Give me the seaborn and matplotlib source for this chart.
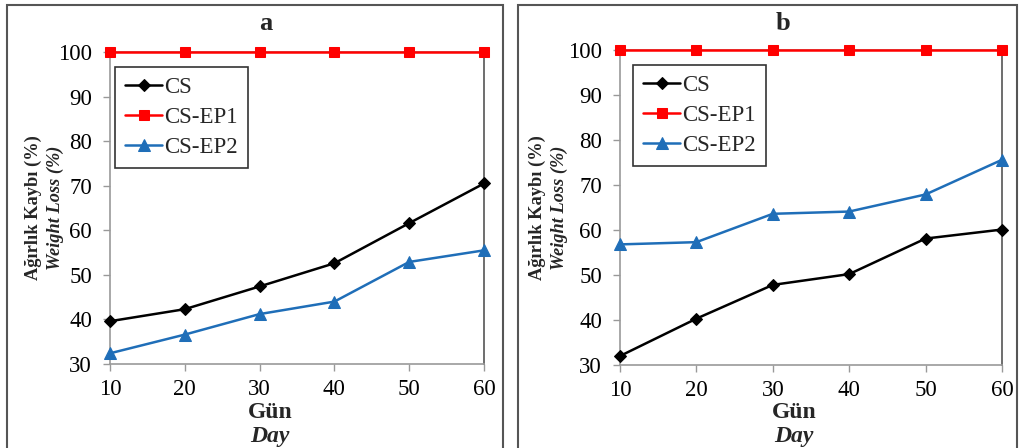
import matplotlib
matplotlib.use("Agg")
import matplotlib.pyplot as plt
import seaborn as sns
import pandas as pd
from matplotlib.patches import Rectangle

days = [10, 20, 30, 40, 50, 60]
series_names = ["CS", "CS-EP1", "CS-EP2"]
a_cs = [39.6, 42.3, 47.4, 52.6, 61.6, 70.5]
a_ep1 = [100, 100, 100, 100, 100, 100]
a_ep2 = [32.4, 36.6, 41.2, 44.0, 52.9, 55.5]
b_cs = [32.0, 40.3, 47.8, 50.2, 58.1, 60.1]
b_ep1 = [100, 100, 100, 100, 100, 100]
b_ep2 = [56.8, 57.3, 63.6, 64.1, 67.9, 75.6]
panel_titles = ["a", "b"]
y_ticks = [30, 40, 50, 60, 70, 80, 90, 100]

sns.set_theme(style="white")
plt.rcParams["font.family"] = ["Liberation Serif", "DejaVu Serif"]

colors = {"CS": "#000000", "CS-EP1": "#FF0000", "CS-EP2": "#1F6EB8"}
markers = {"CS": "D", "CS-EP1": "s", "CS-EP2": "^"}
msizes = {"CS": 6.5, "CS-EP1": 7.5, "CS-EP2": 9}


def long_df(cs, ep1, ep2):
    rows = []
    for name, vals in zip(series_names, [cs, ep1, ep2]):
        for d, v in zip(days, vals):
            rows.append({"Day": d, "Loss": v, "Series": name})
    return pd.DataFrame(rows)


fig = plt.figure(figsize=(10.21, 4.48), dpi=100)
W, H = 1021, 448

# panel frames
for (x0, x1) in [(7, 503), (518, 1017)]:
    fig.patches.append(Rectangle((x0 / W, -0.05), (x1 - x0) / W, 1 - 5 / H + 0.05,
                                 transform=fig.transFigure, fill=False,
                                 edgecolor="#555555", linewidth=1.5))

axes_px = [(110, 484, 52, 364), (620, 1002, 50, 365)]
title_x = [266, 783]
xlabel_x = [270, 794]
ylabel_x = [(33, 55), (537, 559)]
legend_dx = [5, 13]
data = [(a_cs, a_ep1, a_ep2), (b_cs, b_ep1, b_ep2)]

for i, ((l, r, t, b), d) in enumerate(zip(axes_px, data)):
    ax = fig.add_axes([l / W, 1 - b / H, (r - l) / W, (b - t) / H])
    df = long_df(*d)
    for name in series_names:
        sub = df[df["Series"] == name]
        sns.lineplot(data=sub, x="Day", y="Loss", ax=ax, color=colors[name],
                     marker=markers[name], markersize=msizes[name],
                     markeredgecolor=colors[name], linewidth=1.8,
                     label=name, clip_on=False, zorder=5 if name == "CS-EP1" else 4)
    ax.set_xlim(10, 60)
    ax.set_ylim(30, 100)
    ax.set_xticks(days)
    ax.set_yticks(y_ticks)
    ax.tick_params(axis="both", labelsize=16.5, colors="#999999", labelcolor="black",
                   direction="out", length=5, width=1, bottom=True, left=True)
    ax.tick_params(axis="y", pad=8)
    ax.tick_params(axis="x", pad=6)
    for s in ["left", "bottom", "right", "top"]:
        ax.spines[s].set_color("#9a9a9a")
        ax.spines[s].set_linewidth(1.2)
    ax.spines["right"].set_color("#555555")
    ax.set_xlabel("")
    ax.set_ylabel("")
    top_frac = (b - (t + 15)) / (b - t)
    leg = ax.legend(loc="upper left", bbox_to_anchor=(legend_dx[i] / (r - l), top_frac),
                    borderaxespad=0, fontsize=16.5,
                    frameon=True, fancybox=False, edgecolor="black",
                    handlelength=1.6, handletextpad=0.1, borderpad=0.45,
                    labelspacing=0.38)
    leg.get_frame().set_linewidth(1.2)
    # title
    fig.text(title_x[i] / W, 1 - 23 / H, panel_titles[i], ha="center", va="center",
             fontsize=19, fontweight="bold")
    # x labels
    fig.text(xlabel_x[i] / W, 1 - 412 / H, "Gün", ha="center", va="center",
             fontsize=17, fontweight="bold")
    fig.text(xlabel_x[i] / W, 1 - 436 / H, "Day", ha="center", va="center",
             fontsize=17, fontweight="bold", style="italic")
    # y labels
    fig.text(ylabel_x[i][0] / W, 1 - 208 / H, "Ağırlık Kaybı (%)", ha="center",
             va="center", rotation=90, fontsize=13.2, fontweight="bold")
    fig.text(ylabel_x[i][1] / W, 1 - 208 / H, "Weight Loss (%)", ha="center",
             va="center", rotation=90, fontsize=13.2, fontweight="bold", style="italic")

fig.savefig("out.png", dpi=100)
